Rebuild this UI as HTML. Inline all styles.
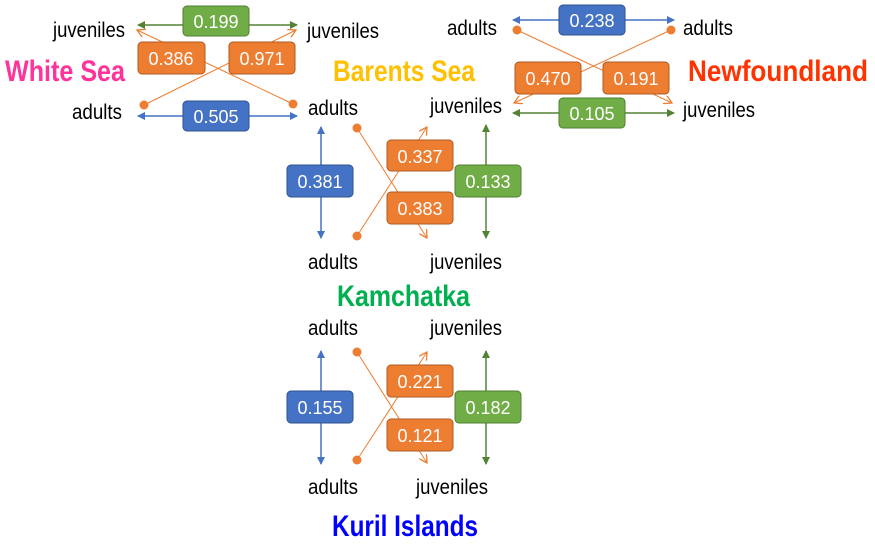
<!DOCTYPE html>
<html><head><meta charset="utf-8"><style>
body{margin:0;background:#fff}
svg text{font-family:"Liberation Sans",sans-serif}
</style></head><body>
<svg width="875" height="552" viewBox="0 0 875 552" xmlns="http://www.w3.org/2000/svg">
<defs>
<marker id="ag" markerWidth="8" markerHeight="8" refX="7" refY="4" orient="auto-start-reverse" markerUnits="userSpaceOnUse"><path d="M0,0 L8,4 L0,8z" fill="#548235"/></marker>
<marker id="ab" markerWidth="8" markerHeight="8" refX="7" refY="4" orient="auto-start-reverse" markerUnits="userSpaceOnUse"><path d="M0,0 L8,4 L0,8z" fill="#4472c4"/></marker>
<marker id="ao" markerWidth="9" markerHeight="9" refX="8" refY="4.5" orient="auto" markerUnits="userSpaceOnUse"><path d="M0,0 L8,4.5 L0,9" fill="none" stroke="#ed7d31" stroke-width="1.3"/></marker>
</defs>
<g font-size="21" fill="#000" lengthAdjust="spacingAndGlyphs">
<text x="53" y="37" textLength="72" lengthAdjust="spacingAndGlyphs">juveniles</text><text x="72" y="119" textLength="50" lengthAdjust="spacingAndGlyphs">adults</text>
<text x="307" y="38" textLength="72" lengthAdjust="spacingAndGlyphs">juveniles</text><text x="308" y="115" textLength="50" lengthAdjust="spacingAndGlyphs">adults</text>
<text x="447" y="35" textLength="50" lengthAdjust="spacingAndGlyphs">adults</text><text x="683" y="35" textLength="50" lengthAdjust="spacingAndGlyphs">adults</text>
<text x="430" y="113" textLength="72" lengthAdjust="spacingAndGlyphs">juveniles</text><text x="683" y="117" textLength="72" lengthAdjust="spacingAndGlyphs">juveniles</text>
<text x="308" y="269" textLength="50" lengthAdjust="spacingAndGlyphs">adults</text><text x="430" y="269" textLength="72" lengthAdjust="spacingAndGlyphs">juveniles</text>
<text x="308" y="335" textLength="50" lengthAdjust="spacingAndGlyphs">adults</text><text x="430" y="335" textLength="72" lengthAdjust="spacingAndGlyphs">juveniles</text>
<text x="308" y="494" textLength="50" lengthAdjust="spacingAndGlyphs">adults</text><text x="416" y="494" textLength="72" lengthAdjust="spacingAndGlyphs">juveniles</text>
</g>
<g font-size="30" font-weight="bold">
<text x="5" y="81" fill="#ff3399" textLength="120" lengthAdjust="spacingAndGlyphs">White Sea</text>
<text x="333" y="81" fill="#ffc000" textLength="142" lengthAdjust="spacingAndGlyphs">Barents Sea</text>
<text x="688" y="81" fill="#ff3300" textLength="180" lengthAdjust="spacingAndGlyphs">Newfoundland</text>
<text x="337" y="306" fill="#00b050" textLength="133" lengthAdjust="spacingAndGlyphs">Kamchatka</text>
<text x="332" y="536" fill="#0000ff" textLength="146" lengthAdjust="spacingAndGlyphs">Kuril Islands</text>
</g>
<g stroke-width="1.5" fill="none">
<line x1="138" y1="25" x2="297" y2="25" stroke="#548235" marker-start="url(#ag)" marker-end="url(#ag)"/>
<line x1="138" y1="116" x2="297" y2="116" stroke="#4472c4" marker-start="url(#ab)" marker-end="url(#ab)"/>
<line x1="144" y1="105" x2="296" y2="30" stroke="#ed7d31" stroke-width="1" marker-end="url(#ao)"/>
<line x1="293" y1="104" x2="137" y2="30" stroke="#ed7d31" stroke-width="1" marker-end="url(#ao)"/>
<line x1="513" y1="20" x2="674" y2="20" stroke="#4472c4" marker-start="url(#ab)" marker-end="url(#ab)"/>
<line x1="513" y1="113" x2="674" y2="113" stroke="#548235" marker-start="url(#ag)" marker-end="url(#ag)"/>
<line x1="517" y1="30" x2="672" y2="103" stroke="#ed7d31" stroke-width="1" marker-end="url(#ao)"/>
<line x1="671" y1="30" x2="514" y2="103" stroke="#ed7d31" stroke-width="1" marker-end="url(#ao)"/>
<line x1="321" y1="127" x2="321" y2="238" stroke="#4472c4" marker-start="url(#ab)" marker-end="url(#ab)"/>
<line x1="486" y1="125" x2="486" y2="238" stroke="#548235" marker-start="url(#ag)" marker-end="url(#ag)"/>
<line x1="357" y1="128" x2="427" y2="238" stroke="#ed7d31" stroke-width="1" marker-end="url(#ao)"/>
<line x1="357" y1="236" x2="427" y2="127" stroke="#ed7d31" stroke-width="1" marker-end="url(#ao)"/>
<line x1="321" y1="351" x2="321" y2="464" stroke="#4472c4" marker-start="url(#ab)" marker-end="url(#ab)"/>
<line x1="486" y1="351" x2="486" y2="464" stroke="#548235" marker-start="url(#ag)" marker-end="url(#ag)"/>
<line x1="357" y1="352" x2="427" y2="463" stroke="#ed7d31" stroke-width="1" marker-end="url(#ao)"/>
<line x1="357" y1="460" x2="427" y2="352" stroke="#ed7d31" stroke-width="1" marker-end="url(#ao)"/>
</g>
<g fill="#ed7d31">
<circle cx="144" cy="105" r="4.5"/><circle cx="293" cy="104" r="4.5"/>
<circle cx="517" cy="30" r="4.5"/><circle cx="671" cy="30" r="4.5"/>
<circle cx="357" cy="128" r="4.5"/><circle cx="357" cy="236" r="4.5"/>
<circle cx="357" cy="352" r="4.5"/><circle cx="357" cy="460" r="4.5"/>
</g>
<g stroke-width="1" font-size="18" text-anchor="middle">
<g fill="#70ad47" stroke="#507e32">
<rect x="183" y="6" width="66" height="30" rx="4"/>
<rect x="559" y="98" width="66" height="30" rx="4"/>
<rect x="455" y="165" width="66" height="32" rx="4"/>
<rect x="455" y="391" width="66" height="32" rx="4"/>
</g>
<g fill="#4472c4" stroke="#2f528f">
<rect x="183" y="101" width="66" height="30" rx="4"/>
<rect x="559" y="5" width="66" height="30" rx="4"/>
<rect x="287" y="165" width="66" height="32" rx="4"/>
<rect x="287" y="391" width="66" height="32" rx="4"/>
</g>
<g fill="#ed7d31" stroke="#ae5a21">
<rect x="138" y="42" width="67" height="32" rx="4"/>
<rect x="229" y="42" width="66" height="32" rx="4"/>
<rect x="515" y="62" width="66" height="32" rx="4"/>
<rect x="603" y="62" width="66" height="32" rx="4"/>
<rect x="387" y="140" width="66" height="31" rx="4"/>
<rect x="387" y="192" width="66" height="32" rx="4"/>
<rect x="387" y="365" width="66" height="32" rx="4"/>
<rect x="387" y="419" width="66" height="32" rx="4"/>
</g>
<g fill="#fff" stroke="none">
<text x="216" y="28">0.199</text><text x="592" y="120">0.105</text>
<text x="488" y="188">0.133</text><text x="488" y="414">0.182</text>
<text x="216" y="123">0.505</text><text x="592" y="27">0.238</text>
<text x="320" y="188">0.381</text><text x="320" y="414">0.155</text>
<text x="171" y="65">0.386</text><text x="262" y="65">0.971</text>
<text x="548" y="85">0.470</text><text x="636" y="85">0.191</text>
<text x="420" y="163">0.337</text><text x="420" y="215">0.383</text>
<text x="420" y="388">0.221</text><text x="420" y="442">0.121</text>
</g>
</g>
</svg>
</body></html>
